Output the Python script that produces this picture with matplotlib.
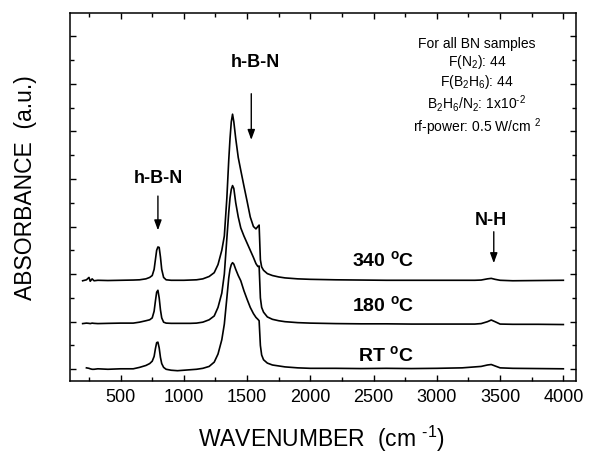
import numpy as np
import matplotlib
matplotlib.use("Agg")
import matplotlib.pyplot as plt
from matplotlib.ticker import MultipleLocator

plt.rcParams['font.family'] = ['Liberation Sans', 'DejaVu Sans']
plt.rcParams['mathtext.fontset'] = 'custom'
plt.rcParams['mathtext.rm'] = 'Liberation Sans'
plt.rcParams['mathtext.it'] = 'Liberation Sans:italic'
plt.rcParams['mathtext.bf'] = 'Liberation Sans:bold'

# ---------------- data ----------------
wavenumber = [200, 230, 250, 260, 275, 290, 320, 400, 500, 600,
              650, 700, 730, 750, 765, 775, 785, 795, 805, 815,
              825, 840, 860, 900, 950, 1000, 1050, 1100, 1150, 1200,
              1240, 1270, 1300, 1320, 1340, 1355, 1365, 1375, 1385, 1395,
              1410, 1430, 1450, 1475, 1500, 1525, 1550, 1570, 1585, 1595,
              1605, 1615, 1630, 1660, 1700, 1750, 1800, 1900, 2000, 2200,
              2400, 2600, 2800, 3000, 3200, 3300, 3350, 3400, 3430, 3460,
              3500, 3600, 3800, 4000]

abs_rt = [np.nan, 0.03, 0.02, 0.01, 0.0, 0.0, 0.01, 0.0, 0.01, 0.01,
          0.04, 0.08, 0.12, 0.17, 0.27, 0.43, 0.56, 0.57, 0.45, 0.25,
          0.12, 0.04, 0.0, -0.02, -0.03, -0.02, -0.01, 0.0, 0.02, 0.06,
          0.15, 0.32, 0.62, 0.95, 1.5, 1.92, 2.1, 2.2, 2.24, 2.21,
          2.1, 1.97, 1.86, 1.65, 1.47, 1.3, 1.17, 1.09, 1.05, 1.02,
          0.5, 0.3, 0.2, 0.13, 0.09, 0.07, 0.05, 0.03, 0.02, 0.02,
          0.015, 0.02, 0.015, 0.02, 0.03, 0.05, 0.06, 0.09, 0.1, 0.07,
          0.03, 0.02, 0.015, 0.01]

abs_180 = [0.96, 0.97, 0.965, 0.96, 0.97, 0.965, 0.96, 0.965, 0.97, 0.97,
           0.99, 1.02, 1.04, 1.08, 1.22, 1.43, 1.62, 1.66, 1.5, 1.25,
           1.08, 0.99, 0.97, 0.965, 0.965, 0.965, 0.965, 0.97, 0.99, 1.04,
           1.12, 1.3, 1.6, 2.0, 2.75, 3.3, 3.6, 3.78, 3.86, 3.8,
           3.5, 3.2, 2.97, 2.8, 2.65, 2.5, 2.35, 2.22, 2.16, 2.17,
           1.5, 1.3, 1.2, 1.1, 1.05, 1.02, 1.0, 0.98, 0.97, 0.96,
           0.955, 0.955, 0.95, 0.95, 0.95, 0.95, 0.96, 1.0, 1.035, 1.0,
           0.95, 0.945, 0.945, 0.94]

abs_340 = [1.86, 1.88, 1.93, 1.85, 1.9, 1.86, 1.87, 1.865, 1.87, 1.875,
           1.88, 1.9, 1.93, 1.97, 2.1, 2.3, 2.5, 2.57, 2.56, 2.36,
           2.1, 1.93, 1.88, 1.87, 1.87, 1.87, 1.875, 1.88, 1.9, 1.95,
           2.03, 2.2, 2.5, 2.8, 3.6, 4.4, 4.85, 5.2, 5.36, 5.2,
           4.85, 4.45, 4.18, 3.85, 3.53, 3.2, 3.0, 2.95, 3.0, 3.03,
           2.3, 2.15, 2.08, 2.01, 1.97, 1.94, 1.92, 1.9, 1.89, 1.88,
           1.875, 1.87, 1.87, 1.87, 1.87, 1.87, 1.875, 1.9, 1.91, 1.89,
           1.87, 1.86, 1.865, 1.87]

series_labels = ["340 $^{\\mathbf{o}}$C", "180 $^{\\mathbf{o}}$C", "RT $^{\\mathbf{o}}$C"]
x_ticks = [500, 1000, 1500, 2000, 2500, 3000, 3500, 4000]

info_lines = ["For all BN samples",
              "F(N$_2$): 44",
              "F(B$_2$H$_6$): 44",
              "B$_2$H$_6$/N$_2$: 1x10$^{\\text{-}2}$",
              "rf-power: 0.5 W/cm $^2$"]

# ---------------- figure ----------------
fig = plt.figure(figsize=(5.96, 4.55), dpi=100)
ax = fig.add_axes([70/596, 1-380.7/455, (576-70)/596, (380.7-13.3)/455])

for yvals in (abs_340, abs_180, abs_rt):
    ax.plot(wavenumber, yvals, color='black', lw=1.2)

ax.set_xlim(100, 4100)
ax.set_ylim(-0.24, 7.48)
ax.set_xticks(x_ticks)
ax.xaxis.set_minor_locator(MultipleLocator(250))
ax.yaxis.set_major_locator(MultipleLocator(1))
ax.yaxis.set_minor_locator(MultipleLocator(0.5))
ax.tick_params(which='both', direction='in', top=True, right=True, width=1.0)
ax.tick_params(which='major', length=4.5)
ax.tick_params(which='minor', length=2.6)
ax.tick_params(axis='x', labelsize=13, pad=6)
ax.tick_params(axis='y', labelleft=False)
for s in ax.spines.values():
    s.set_linewidth(1.1)

# series labels
ax.text(2575, 2.30, series_labels[0], fontsize=14, fontweight='bold', ha='center', va='center')
ax.text(2575, 1.35, series_labels[1], fontsize=14, fontweight='bold', ha='center', va='center')
ax.text(2595, 0.30, series_labels[2], fontsize=14, fontweight='bold', ha='center', va='center')

# peak annotations
arrow_kw = dict(arrowstyle='-|>,head_width=0.22,head_length=0.6', color='black', lw=1.0,
                shrinkA=0, shrinkB=0)
ax.text(795, 4.0, "h-B-N", fontsize=13, fontweight='bold', ha='center', va='center')
ax.annotate("", xy=(795, 2.92), xytext=(795, 3.64), arrowprops=arrow_kw)
ax.text(1566, 6.45, "h-B-N", fontsize=13, fontweight='bold', ha='center', va='center')
ax.annotate("", xy=(1533, 4.82), xytext=(1533, 5.79), arrowprops=arrow_kw)
ax.text(3427, 3.13, "N-H", fontsize=13, fontweight='bold', ha='center', va='center')
ax.annotate("", xy=(3450, 2.23), xytext=(3450, 2.89), arrowprops=arrow_kw)

# info block
info_y = [6.84, 6.45, 6.03, 5.58, 5.09]
for t, yy in zip(info_lines, info_y):
    ax.text(3317, yy, t, fontsize=10, ha='center', va='center')

# axis labels
fig.text(321/596, 1-439/455, "WAVENUMBER  (cm $^{\\text{-}1}$)", fontsize=16.5, ha='center', va='center')
fig.text(26/596, 1-188/455, "ABSORBANCE  (a.u.)", fontsize=16.5, ha='center', va='center', rotation=90)

fig.savefig("out.png", dpi=100)
